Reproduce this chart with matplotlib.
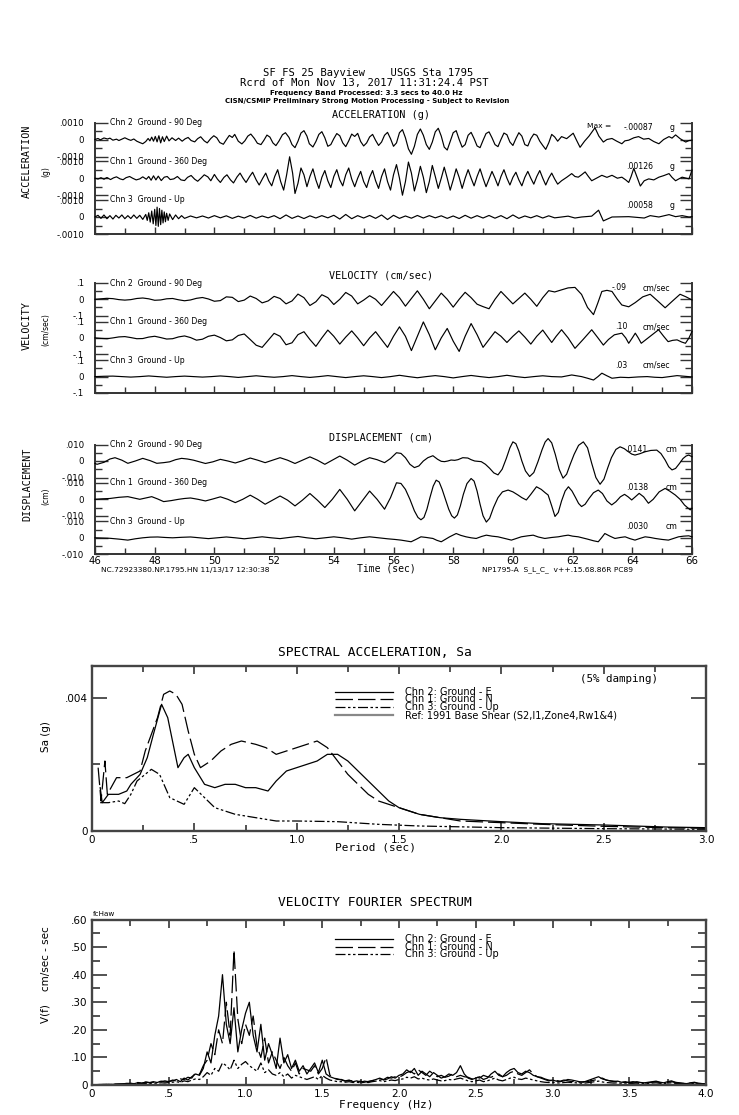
import numpy as np
import matplotlib
matplotlib.use("Agg")
import matplotlib.pyplot as plt
from matplotlib.ticker import MultipleLocator, FixedLocator, FuncFormatter

W, H, DPI = 739, 1115, 100
MONO = "DejaVu Sans Mono"
SANS = "DejaVu Sans"

# ====================== DATA ======================
TIME_LIM = (46, 66)
TIME_TICKS = [46, 48, 50, 52, 54, 56, 58, 60, 62, 64, 66]

# acceleration, units of 1e-5 g : (time s, value)
ACC_CH2 = [(46.0,0),(46.1,6),(46.18,-2),(46.3,9),(46.42,3),(46.5,8),(46.6,-4),(46.72,2),(46.8,-6),(46.92,4),
 (47.0,10),(47.12,0),(47.2,-5),(47.3,3),(47.4,-10),(47.5,-18),(47.6,-25),(47.7,-12),(47.78,6),(47.84,-8),
 (47.9,14),(47.96,-10),(48.02,18),(48.08,-14),(48.14,22),(48.2,-20),(48.26,16),(48.32,-12),(48.4,20),(48.48,-8),
 (48.58,10),(48.7,-6),(48.8,8),(48.92,-10),(49.02,4),(49.12,12),(49.22,-6),(49.34,-14),(49.44,5),(49.54,16),
 (49.66,-8),(49.76,-20),(49.88,6),(49.98,22),(50.08,10),(50.18,-18),(50.3,-28),(50.42,4),(50.5,24),(50.6,12),
 (50.68,30),(50.8,-10),(50.92,-26),(51.02,-8),(51.12,20),(51.22,32),(51.34,6),(51.44,-22),(51.56,-30),(51.66,-4),
 (51.76,26),(51.86,14),(51.96,-20),(52.06,-36),(52.16,-10),(52.28,28),(52.38,40),(52.5,12),(52.6,-30),(52.7,-48),
 (52.8,-10),(52.9,38),(53.0,52),(53.1,20),(53.18,-25),(53.3,-44),(53.4,-12),(53.5,30),(53.6,46),(53.7,10),
 (53.8,-40),(53.9,-30),(54.0,5),(54.1,35),(54.2,22),(54.3,-20),(54.4,-42),(54.5,-8),(54.6,32),(54.7,18),
 (54.8,36),(54.9,-12),(55.0,-38),(55.1,-20),(55.2,15),(55.3,30),(55.4,-5),(55.5,-35),(55.6,-15),(55.7,25),
 (55.8,42),(55.9,5),(56.0,-40),(56.1,-20),(56.2,40),(56.3,58),(56.4,10),(56.5,-55),(56.6,-87),(56.7,-40),
 (56.8,30),(56.9,62),(57.0,25),(57.1,-30),(57.2,-58),(57.3,-15),(57.4,45),(57.5,66),(57.6,20),(57.7,-45),
 (57.8,-62),(57.9,-10),(58.0,40),(58.1,52),(58.2,0),(58.3,-45),(58.4,-30),(58.5,25),(58.6,42),(58.7,5),
 (58.8,-38),(58.9,-48),(59.0,-5),(59.1,35),(59.2,45),(59.3,10),(59.4,-30),(59.5,-42),(59.6,0),(59.7,38),
 (59.8,28),(59.9,-15),(60.0,-35),(60.1,5),(60.2,40),(60.3,20),(60.4,-30),(60.5,-38),(60.6,5),(60.7,32),
 (60.8,25),(60.9,-10),(61.0,-35),(61.1,-58),(61.2,-20),(61.3,30),(61.4,15),(61.5,-10),(61.63,17),(61.8,5),
 (62.02,37),(62.12,0),(62.25,-46),(62.4,-10),(62.55,20),(62.75,69),(62.88,20),(63.03,-15),(63.15,0),(63.32,6),
 (63.48,-10),(63.65,-25),(63.75,-8),(63.88,-4),(64.05,10),(64.21,17),(64.38,2),(64.55,6),(64.72,-12),
 (64.89,-25),(65.05,0),(65.23,17),(65.33,8),(65.45,27),(65.6,5),(65.79,-15),(65.9,-6),(66.0,-4)]
ACC_CH1 = [(46.0,0),(46.1,-5),(46.2,3),(46.3,-6),(46.4,4),(46.52,-8),(46.62,2),(46.72,8),(46.84,-4),(46.94,-9),
 (47.04,3),(47.16,10),(47.26,0),(47.38,-10),(47.5,-4),(47.6,8),(47.72,-6),(47.8,10),(47.88,-12),(47.96,14),
 (48.04,-10),(48.12,12),(48.22,-14),(48.32,6),(48.42,10),(48.52,-8),(48.64,-4),(48.76,10),(48.88,-10),(49.0,-14),
 (49.1,5),(49.22,16),(49.34,-6),(49.44,-18),(49.56,2),(49.66,20),(49.78,8),(49.88,-15),(50.0,22),(50.1,-5),
 (50.2,-25),(50.32,5),(50.42,20),(50.54,-10),(50.64,-28),(50.76,8),(50.86,30),(50.96,0),(51.06,-25),(51.18,10),
 (51.28,35),(51.4,-10),(51.5,-40),(51.62,0),(51.72,30),(51.82,-15),(51.92,-45),(52.02,10),(52.12,50),(52.22,-20),
 (52.32,-70),(52.42,20),(52.52,126),(52.62,30),(52.7,-90),(52.8,-30),(52.9,60),(53.0,20),(53.1,-50),(53.2,10),
 (53.3,55),(53.4,-10),(53.5,-60),(53.6,5),(53.7,45),(53.8,-15),(53.9,-55),(54.0,10),(54.1,50),(54.2,-10),
 (54.3,-45),(54.4,20),(54.5,60),(54.6,-5),(54.7,-50),(54.8,0),(54.9,40),(55.0,-20),(55.1,-55),(55.2,5),
 (55.3,45),(55.4,-15),(55.5,-60),(55.6,10),(55.7,55),(55.8,-20),(55.9,-70),(56.0,20),(56.1,80),(56.2,0),
 (56.3,-100),(56.4,-20),(56.5,95),(56.6,30),(56.7,-75),(56.8,-10),(56.9,70),(57.0,5),(57.1,-85),(57.2,-20),
 (57.3,75),(57.4,10),(57.5,-60),(57.6,0),(57.7,65),(57.8,0),(57.9,-70),(58.0,-10),(58.1,55),(58.2,5),
 (58.3,-60),(58.4,0),(58.5,50),(58.6,0),(58.7,-45),(58.8,10),(58.9,55),(59.0,0),(59.1,-50),(59.2,-5),
 (59.3,40),(59.4,0),(59.5,-45),(59.6,10),(59.7,50),(59.8,0),(59.9,-40),(60.0,5),(60.1,35),(60.2,-10),
 (60.3,-45),(60.4,5),(60.5,40),(60.6,0),(60.7,-35),(60.8,10),(60.9,45),(61.0,0),(61.1,-40),(61.2,0),
 (61.3,30),(61.4,-5),(61.5,-35),(61.63,-15),(61.8,5),(61.97,27),(62.08,10),(62.19,6),(62.3,20),(62.42,37),
 (62.53,10),(62.64,-15),(62.8,0),(62.98,17),(63.15,5),(63.32,17),(63.5,0),(63.65,6),(63.78,-10),(63.88,-25),
 (63.96,10),(64.05,58),(64.15,10),(64.27,-46),(64.4,-15),(64.55,-4),(64.72,-10),(64.89,6),(65.05,15),
 (65.23,27),(65.33,5),(65.45,-15),(65.55,-5),(65.67,6),(65.8,0),(65.9,-4),(66.0,48)]
ACC_CH3 = [(46.0,0),(46.1,10),(46.2,-8),(46.3,12),(46.4,-10),(46.5,8),(46.6,-12),(46.7,10),(46.8,-6),(46.9,12),
 (47.0,-10),(47.1,8),(47.2,-9),(47.3,12),(47.4,-8),(47.5,10),(47.6,-14),(47.7,15),(47.75,-20),(47.8,25),
 (47.85,-30),(47.9,35),(47.95,-40),(48.0,45),(48.04,-50),(48.08,58),(48.12,-55),(48.16,50),(48.2,-45),(48.24,40),
 (48.28,-35),(48.32,30),(48.36,-28),(48.4,22),(48.45,-20),(48.5,18),(48.6,-15),(48.7,12),(48.8,-10),(48.9,8),
 (49.0,-8),(49.2,6),(49.4,-5),(49.6,6),(49.8,-6),(50.0,8),(50.2,-5),(50.4,7),(50.6,-8),(50.8,5),(51.0,-6),
 (51.2,9),(51.4,-7),(51.6,6),(51.8,-5),(52.0,8),(52.2,-10),(52.4,12),(52.6,-8),(52.8,6),(53.0,-9),(53.2,7),
 (53.4,-6),(53.6,8),(53.8,-5),(54.0,10),(54.2,-12),(54.4,15),(54.6,-10),(54.8,8),(55.0,-6),(55.2,9),(55.4,-8),
 (55.6,12),(55.8,-15),(56.0,10),(56.2,-8),(56.4,6),(56.6,-7),(56.8,9),(57.0,-6),(57.2,8),(57.4,-5),(57.6,7),
 (57.8,-8),(58.0,6),(58.2,-9),(58.4,10),(58.6,-7),(58.8,8),(59.0,-6),(59.2,9),(59.4,-7),(59.6,8),(59.8,-10),
 (60.0,12),(60.2,-8),(60.4,6),(60.6,-5),(60.8,8),(61.0,-6),(61.2,7),(61.4,-5),(61.63,0),(61.85,5),(62.08,-6),
 (62.3,0),(62.64,5),(62.87,40),(63.03,-23),(63.32,0),(63.88,2),(64.4,-6),(64.6,8),(64.89,0),(65.23,14),
 (65.45,2),(65.67,8),(65.9,0),(66.0,2)]

# velocity, units of 1e-3 cm/s
VEL_CH2 = [(46.0,0),(46.2,3),(46.4,6),(46.6,4),(46.8,-2),(47.0,-5),(47.2,-2),(47.4,5),(47.6,8),(47.8,3),(48.0,-6),
 (48.2,-4),(48.4,3),(48.6,5),(48.8,-3),(49.0,-9),(49.2,-4),(49.4,6),(49.6,11),(49.8,2),(50.0,-12),(50.2,-8),
 (50.4,15),(50.6,12),(50.8,-14),(51.0,-5),(51.2,20),(51.4,5),(51.6,-22),(51.8,-10),(52.0,18),(52.2,5),(52.4,-28),
 (52.6,-10),(52.8,32),(53.0,10),(53.2,-38),(53.4,-15),(53.6,28),(53.8,10),(54.0,-32),(54.2,0),(54.4,42),(54.6,20),
 (54.8,-28),(55.0,-5),(55.2,22),(55.4,0),(55.6,-38),(55.8,5),(56.0,48),(56.2,10),(56.4,-42),(56.6,5),(56.8,52),
 (57.0,0),(57.2,-58),(57.4,-10),(57.6,38),(57.8,0),(58.0,-48),(58.2,0),(58.4,43),(58.6,10),(58.8,-30),(59.0,-45),
 (59.2,-58),(59.4,0),(59.6,48),(59.8,10),(60.0,-28),(60.2,5),(60.4,38),(60.6,0),(60.8,-43),(61.0,10),(61.2,53),
 (61.4,45),(61.63,58),(61.85,70),(62.08,73),(62.3,30),(62.5,-50),(62.7,-94),(62.85,-20),(62.98,48),(63.15,55),
 (63.32,48),(63.5,0),(63.65,-35),(63.88,-46),(64.1,-20),(64.35,15),(64.6,31),(64.85,-10),(65.1,-52),(65.35,-10),
 (65.6,31),(65.8,15),(66.0,-4)]
VEL_CH1 = [(46.0,0),(46.2,-3),(46.4,-5),(46.6,0),(46.8,6),(47.0,8),(47.2,2),(47.4,-5),(47.6,-4),(47.8,5),(48.0,10),
 (48.2,2),(48.4,-7),(48.6,-5),(48.8,6),(49.0,12),(49.2,2),(49.4,-14),(49.6,-8),(49.8,10),(50.0,17),(50.2,2),
 (50.4,-18),(50.6,-12),(50.8,15),(51.0,24),(51.2,-10),(51.4,-45),(51.6,-58),(51.8,-15),(52.0,28),(52.2,10),
 (52.4,-42),(52.6,-30),(52.8,20),(53.0,38),(53.2,-10),(53.4,-52),(53.6,0),(53.8,48),(54.0,10),(54.2,-38),(54.4,5),
 (54.6,43),(54.8,0),(55.0,-48),(55.2,0),(55.4,38),(55.6,-10),(55.8,-58),(56.0,10),(56.2,68),(56.4,10),(56.6,-78),
 (56.8,10),(57.0,98),(57.2,20),(57.4,-73),(57.6,0),(57.8,58),(58.0,-20),(58.2,-83),(58.4,10),(58.6,88),(58.8,20),
 (59.0,-58),(59.2,-10),(59.4,38),(59.6,10),(59.8,-28),(60.0,10),(60.2,43),(60.4,5),(60.6,-38),(60.8,10),(61.0,48),
 (61.15,10),(61.3,-28),(61.45,10),(61.63,50),(61.85,0),(62.08,-64),(62.35,-10),(62.64,50),(62.85,0),(63.03,-44),
 (63.2,-10),(63.4,19),(63.65,29),(63.78,0),(63.88,-33),(64.0,0),(64.1,29),(64.2,0),(64.3,-33),(64.6,10),
 (64.88,50),(65.05,10),(65.2,-23),(65.35,-15),(65.5,-12),(65.65,-25),(65.78,-33),(65.9,0),(66.0,40)]
VEL_CH3 = [(46.0,0),(46.3,2),(46.6,3),(46.9,0),(47.2,-3),(47.5,0),(47.8,4),(48.1,0),(48.4,-4),(48.7,0),(49.0,3),
 (49.3,0),(49.6,-3),(49.9,0),(50.2,4),(50.5,0),(50.8,-5),(51.1,0),(51.4,5),(51.7,0),(52.0,-4),(52.3,0),(52.6,6),
 (52.9,0),(53.2,-5),(53.5,0),(53.8,6),(54.1,0),(54.4,-6),(54.7,0),(55.0,5),(55.3,0),(55.6,-6),(55.9,0),(56.2,8),
 (56.5,0),(56.8,-7),(57.1,0),(57.4,6),(57.7,0),(58.0,-8),(58.3,0),(58.6,7),(58.9,0),(59.2,-6),(59.5,0),(59.8,8),
 (60.1,0),(60.4,-6),(60.7,0),(61.0,5),(61.3,0),(61.63,-2),(61.97,10),(62.3,0),(62.5,-10),(62.7,-21),(62.85,0),
 (62.98,21),(63.15,5),(63.32,-10),(63.6,-4),(63.88,-6),(64.2,-2),(64.5,0),(64.75,-4),(65.0,-6),(65.25,0),
 (65.5,6),(65.75,2),(66.0,-2)]

# displacement, units of 1e-4 cm
DISP_CH2 = [(46.0,-15),(46.07,-20),(46.3,-8),(46.5,12),(46.67,20),(46.9,5),(47.1,-14),(47.35,0),(47.6,16),
 (47.85,2),(48.07,-14),(48.3,-10),(48.5,-5),(48.7,8),(48.9,16),(49.1,12),(49.3,5),(49.5,-5),(49.7,-15),
 (49.95,-5),(50.2,10),(50.45,0),(50.7,-12),(50.95,2),(51.2,18),(51.45,5),(51.7,-10),(51.95,5),(52.2,20),
 (52.45,5),(52.7,-15),(52.95,5),(53.2,25),(53.45,5),(53.7,-20),(53.95,5),(54.2,30),(54.45,5),(54.7,-25),
 (54.95,0),(55.2,20),(55.45,8),(55.7,-10),(55.9,15),(56.1,50),(56.25,46),(56.4,20),(56.55,-20),(56.7,-40),
 (56.85,-30),(57.0,0),(57.15,20),(57.32,32),(57.48,10),(57.6,-2),(57.71,-4),(57.82,0),(57.93,6),(58.05,4),
 (58.16,8),(58.32,20),(58.49,18),(58.6,8),(58.72,0),(58.83,-2),(58.94,-4),(59.08,-20),(59.22,-44),(59.36,-72),
 (59.5,-84),(59.64,-50),(59.78,16),(59.9,80),(60.0,116),(60.1,105),(60.2,60),(60.3,0),(60.42,-60),(60.56,-94),
 (60.7,-70),(60.84,-4),(60.98,70),(61.08,115),(61.18,136),(61.3,110),(61.42,40),(61.55,-50),(61.68,-104),
 (61.8,-80),(61.92,-20),(62.05,40),(62.2,95),(62.36,116),(62.5,80),(62.64,-14),(62.78,-100),(62.92,-141),
 (63.05,-110),(63.18,-40),(63.3,20),(63.45,70),(63.59,86),(63.73,75),(63.87,56),(63.98,42),(64.09,36),
 (64.25,44),(64.43,56),(64.62,64),(64.82,66),(64.96,45),(65.1,6),(65.22,-35),(65.33,-54),(65.45,-45),
 (65.58,-15),(65.7,15),(65.8,30),(65.89,36),(66.0,26)]
DISP_CH1 = [(46.0,0),(46.25,3),(46.5,5),(46.8,12),(47.1,16),(47.3,8),(47.5,0),(47.7,8),(47.9,16),(48.1,2),
 (48.3,-14),(48.55,-8),(48.8,0),(49.0,5),(49.2,8),(49.45,0),(49.7,-10),(49.95,2),(50.2,15),(50.45,0),
 (50.7,-20),(50.95,0),(51.2,25),(51.45,0),(51.7,-30),(51.95,-5),(52.2,20),(52.45,-5),(52.7,-40),(52.95,-5),
 (53.2,35),(53.45,-5),(53.7,-50),(53.95,0),(54.2,60),(54.45,0),(54.7,-70),(54.95,-10),(55.2,50),(55.45,0),
 (55.7,-60),(55.9,10),(56.1,100),(56.25,96),(56.4,60),(56.55,0),(56.7,-70),(56.82,-110),(56.92,-124),
 (57.02,-110),(57.12,-60),(57.22,10),(57.33,80),(57.43,116),(57.53,105),(57.63,60),(57.74,0),(57.85,-60),
 (57.95,-100),(58.04,-114),(58.14,-95),(58.24,-40),(58.34,30),(58.46,95),(58.6,126),(58.7,110),(58.8,50),
 (58.9,-30),(59.0,-100),(59.11,-138),(59.22,-115),(59.35,-50),(59.5,10),(59.65,45),(59.84,56),(60.0,45),
 (60.17,26),(60.3,10),(60.45,-4),(60.6,30),(60.79,76),(60.95,60),(61.08,40),(61.18,26),(61.3,-40),(61.41,-104),
 (61.52,-80),(61.63,-10),(61.75,50),(61.86,76),(61.98,50),(62.1,10),(62.2,-25),(62.3,-44),(62.42,-30),
 (62.55,5),(62.7,40),(62.86,56),(63.0,35),(63.15,-10),(63.31,-34),(63.45,-15),(63.6,15),(63.74,30),
 (63.86,15),(63.98,-4),(64.1,15),(64.23,36),(64.38,15),(64.54,-24),(64.7,0),(64.9,45),(65.1,66),(65.25,50),
 (65.44,26),(65.6,0),(65.75,-35),(65.94,-64),(66.0,-54)]
DISP_CH3 = [(46.0,0),(46.5,-3),(46.8,-8),(47.1,-14),(47.35,-6),(47.6,0),(47.85,4),(48.1,5),(48.35,2),(48.6,0),
 (48.9,3),(49.2,5),(49.5,0),(49.8,-5),(50.1,0),(50.4,5),(50.7,0),(51.0,-6),(51.3,0),(51.6,6),(51.9,0),(52.2,-5),
 (52.5,2),(52.8,8),(53.1,0),(53.4,-6),(53.7,0),(54.0,6),(54.3,0),(54.6,-8),(54.9,0),(55.2,6),(55.5,0),(55.8,-6),
 (56.05,-10),(56.25,-14),(56.59,-24),(56.75,-10),(56.92,6),(57.1,2),(57.32,-4),(57.45,-15),(57.6,-24),(57.75,-8),
 (57.88,6),(58.1,26),(58.25,15),(58.43,6),(58.6,0),(58.77,-4),(58.95,8),(59.11,16),(59.3,10),(59.5,6),
 (59.75,-5),(59.95,-14),(60.1,-5),(60.28,6),(60.5,12),(60.68,16),(60.85,5),(61.07,-4),(61.3,2),(61.52,6),
 (61.7,12),(61.85,16),(62.0,10),(62.19,6),(62.5,-8),(62.7,-18),(62.86,-24),(62.97,0),(63.08,26),(63.25,10),
 (63.42,-4),(63.6,2),(63.76,6),(63.92,-5),(64.09,-14),(64.25,-4),(64.43,6),(64.6,2),(64.77,-4),(65.0,-10),
 (65.21,-14),(65.38,-4),(65.55,6),(65.72,10),(65.89,12),(66.0,6)]

ACC_PEAKS = ["-.00087", ".00126", ".00058"]
VEL_PEAKS = ["-.09", ".10", ".03"]
DISP_PEAKS = [".0141", ".0138", ".0030"]
CHANNEL_LABELS = ["Chn 2  Ground - 90 Deg", "Chn 1  Ground - 360 Deg", "Chn 3  Ground - Up"]

# spectral acceleration (period s, Sa g)
SA_CH2 = [(0.04,0.0013),(0.05,0.00085),(0.08,0.0011),(0.1,0.0011),(0.13,0.0011),(0.17,0.0012),(0.19,0.0014),
 (0.235,0.0017),(0.27,0.0022),(0.3,0.0029),(0.34,0.0038),(0.37,0.0034),(0.38,0.0031),(0.41,0.0022),(0.42,0.0019),
 (0.45,0.0022),(0.47,0.0023),(0.5,0.0019),(0.55,0.0014),(0.6,0.0013),(0.65,0.0014),(0.7,0.0014),(0.75,0.0013),
 (0.8,0.0013),(0.86,0.0012),(0.9,0.0015),(0.95,0.0018),(1.0,0.0019),(1.05,0.002),(1.1,0.0021),(1.15,0.0023),
 (1.2,0.0023),(1.25,0.0021),(1.3,0.0018),(1.35,0.0015),(1.4,0.0012),(1.45,0.0009),(1.5,0.0007),(1.6,0.0005),
 (1.7,0.0004),(1.8,0.00035),(2.0,0.00028),(2.2,0.00022),(2.5,0.00018),(2.8,0.00012),(3.0,0.0001)]
SA_CH1 = [(0.03,0.0019),(0.044,0.0009),(0.063,0.0021),(0.075,0.0011),(0.12,0.0016),(0.17,0.0016),(0.235,0.0018),
 (0.26,0.0024),(0.29,0.0029),(0.32,0.0034),(0.35,0.0041),(0.38,0.0042),(0.41,0.0041),(0.44,0.0038),(0.47,0.003),
 (0.5,0.0023),(0.53,0.0019),(0.58,0.0021),(0.63,0.0024),(0.68,0.0026),(0.73,0.0027),(0.8,0.0026),(0.85,0.0025),
 (0.9,0.0023),(0.95,0.0024),(1.0,0.0025),(1.05,0.0026),(1.1,0.0027),(1.15,0.0025),(1.2,0.0021),(1.25,0.0017),
 (1.3,0.0014),(1.35,0.0011),(1.4,0.0009),(1.5,0.0007),(1.6,0.0005),(1.7,0.0004),(1.8,0.0003),(2.0,0.00025),
 (2.2,0.0002),(2.5,0.00014),(2.8,0.0001),(3.0,0.00008)]
SA_CH3 = [(0.04,0.00085),(0.08,0.00085),(0.13,0.0009),(0.16,0.00082),(0.19,0.0011),(0.22,0.0015),(0.25,0.00165),
 (0.29,0.00185),(0.33,0.0017),(0.38,0.001),(0.45,0.0008),(0.5,0.0013),(0.55,0.001),(0.6,0.0007),(0.7,0.0005),
 (0.8,0.0004),(0.9,0.0003),(1.0,0.0003),(1.2,0.00028),(1.4,0.0002),(1.6,0.00015),(2.0,0.0001),(2.5,0.00007),
 (3.0,0.00005)]

# velocity Fourier spectrum, frequency step 0.025 Hz from 0 Hz, units 1e-3
FFT_STEP = 0.025
FFT_CH2 = [1,1,1,2,2,2,3,3,4, 5,6,5,8,7,10,8,12,9,14,11,13, 15,20,12,25,18,30,40,35, 60,120,80,180,250,400,
 220,150,280,120,200,260, 300,180,120,220,90,150,110,60, 170,80,110,60,90,50,70,40, 60,80,45,90,40,30,25,20,
 20,15,18,12,15,10,14,12,16,20,25,18,22,30,25,35, 40,55,45,60,35,50,40,30,45,35,25,30,40,35,45,70,
 40,25,20,25,30,20,25,40,50,35,30,45,55,60,45,40, 50,45,35,30,25,20,15,18,14,12,15,20,18,15,12,10,
 15,20,25,30,22,18,15,12,14,10,12,8,10,12,9,8, 10,12,14,10,8,12,15,10,8,6,5,8,10,6,5,4]
FFT_CH1 = [1,1,2,2,2,3,3,4,4, 6,5,7,9,6,11,9,10,13,12,15,12, 18,14,22,20,28,25,45,38, 70,90,150,110,200,150,
 300,180,490,240,150,220, 180,250,140,100,170,80,120,90, 60,100,70,50,80,40,60,55, 50,70,40,60,100,35,25,22,
 18,14,16,15,12,14,10,13,15,18,22,20,28,25,30,28, 35,45,50,40,55,45,35,50,40,30,35,28,32,40,30,35,
 30,28,22,30,25,35,30,28,35,40,30,35,45,50,40,35, 45,55,40,30,28,22,18,15,16,14,18,15,12,14,10,12,
 12,15,18,22,25,18,15,14,12,10,9,10,12,8,9,7, 8,10,12,9,7,10,12,9,7,6,5,7,8,6,5,4]
FFT_CH3 = [1,1,1,1,2,2,2,2,3, 3,4,3,5,4,6,5,7,6,8,7,9, 10,12,9,15,12,18,22,20, 30,45,35,60,50,80,
 70,55,90,60,75,85, 70,60,50,80,45,55,40,35, 45,30,40,25,35,30,25,20, 25,30,20,35,25,18,15,12,
 12,10,12,9,10,8,10,9,12,14,16,12,15,18,16,20, 22,28,25,30,22,25,20,18,22,18,15,16,20,18,22,25,
 20,15,12,15,18,12,15,20,25,18,15,20,25,28,22,20, 25,22,18,15,12,10,9,10,8,7,9,10,9,8,7,6,
 8,10,12,14,11,9,8,7,8,6,7,5,6,7,5,5, 6,7,8,6,5,7,8,6,5,4,3,5,6,4,3,3]

# ====================== FIGURE ======================
fig = plt.figure(figsize=(W / DPI, H / DPI), dpi=DPI)
FRAME_COLOR = "#333333"


def ax_px(left, top, right, bottom):
    return fig.add_axes([left / W, 1 - bottom / H, (right - left) / W, (bottom - top) / H])


def ftext(x, y, s, **kw):
    kw.setdefault("va", "center")
    fig.text(x / W, 1 - y / H, s, **kw)


def split(pairs):
    a = np.array(pairs, dtype=float)
    return a[:, 0], a[:, 1]


# ---- header ----
ftext(368, 73, "SF FS 25 Bayview    USGS Sta 1795", ha="center", family=MONO, fontsize=7.6)
ftext(364, 83, "Rcrd of Mon Nov 13, 2017 11:31:24.4 PST", ha="center", family=MONO, fontsize=7.6)
ftext(366, 93, "Frequency Band Processed: 3.3 secs to 40.0 Hz", ha="center", family=SANS,
      fontsize=5.2, fontweight="bold")
ftext(367, 101, "CISN/CSMIP Preliminary Strong Motion Processing - Subject to Revision", ha="center",
      family=SANS, fontsize=5.0, fontweight="bold")

TS_LEFT, TS_RIGHT = 95, 692

groups = [
    dict(title="ACCELERATION (g)", title_y=115, ylabel="ACCELERATION", ylabel_y=161, unit_lab="(g)",
         unit_y=172, zeros=[139.5, 178.2, 217.0], half=17.0, scale=1e-5, fs=0.0010,
         ticklabs=(".0010", "0", "-.0010"), traces=[ACC_CH2, ACC_CH1, ACC_CH3], peaks=ACC_PEAKS,
         unit="g", val_x=653, unit_x=670, xlabels=False),
    dict(title="VELOCITY (cm/sec)", title_y=275, ylabel="VELOCITY", ylabel_y=325, unit_lab="(cm/sec)",
         unit_y=330, zeros=[299.3, 337.9, 376.6], half=16.3, scale=1e-3, fs=0.1,
         ticklabs=(".1", "0", "-.1"), traces=[VEL_CH2, VEL_CH1, VEL_CH3], peaks=VEL_PEAKS,
         unit="cm/sec", val_x=627, unit_x=643, xlabels=False),
    dict(title="DISPLACEMENT (cm)", title_y=437, ylabel="DISPLACEMENT", ylabel_y=484, unit_lab="(cm)",
         unit_y=496, zeros=[461.0, 499.3, 537.8], half=16.5, scale=1e-4, fs=0.010,
         ticklabs=(".010", "0", "-.010"), traces=[DISP_CH2, DISP_CH1, DISP_CH3], peaks=DISP_PEAKS,
         unit="cm", val_x=648, unit_x=666, xlabels=True),
]

for g in groups:
    top = g["zeros"][0] - g["half"]
    bot = g["zeros"][-1] + g["half"]
    frame = ax_px(TS_LEFT, top, TS_RIGHT, bot)
    frame.set_xlim(*TIME_LIM)
    frame.set_ylim(0, 1)
    frame.patch.set_alpha(0)
    frame.spines["top"].set_visible(False)
    for s in ("left", "right", "bottom"):
        frame.spines[s].set_color(FRAME_COLOR)
        frame.spines[s].set_linewidth(1.4)
    frame.set_yticks([])
    frame.xaxis.set_major_locator(FixedLocator(TIME_TICKS))
    frame.xaxis.set_minor_locator(MultipleLocator(1))
    frame.tick_params(axis="x", which="both", direction="in", color=FRAME_COLOR, width=1.0)
    frame.tick_params(axis="x", which="major", length=5, pad=1, labelsize=7.3)
    frame.tick_params(axis="x", which="minor", length=4)
    if g["xlabels"]:
        frame.set_xticklabels([str(t) for t in TIME_TICKS], family=SANS)
    else:
        frame.set_xticklabels([])

    ftext(381, g["title_y"], g["title"], ha="center", family=MONO, fontsize=7.3)
    ftext(27, g["ylabel_y"], g["ylabel"], ha="center", rotation=90, family=MONO, fontsize=7.3)
    ftext(46, g["unit_y"], g["unit_lab"], ha="center", rotation=90, family=SANS, fontsize=5.5)

    for k, (z, tr) in enumerate(zip(g["zeros"], g["traces"])):
        st, sb = z - g["half"], z + g["half"]
        ax = ax_px(TS_LEFT, st, TS_RIGHT, sb)
        ax.patch.set_alpha(0)
        for s in ax.spines.values():
            s.set_visible(False)
        ax.set_xlim(*TIME_LIM)
        fs = g["fs"]
        ax.set_ylim(-fs, fs)
        ax.set_xticks([])
        ax.yaxis.set_major_locator(FixedLocator([-fs, 0, fs]))
        ax.yaxis.set_minor_locator(FixedLocator([-fs / 2, fs / 2]))
        ax.set_yticklabels([g["ticklabs"][2], g["ticklabs"][1], g["ticklabs"][0]], family=SANS)
        ax.tick_params(axis="y", which="both", direction="in", left=True, right=True,
                       color=FRAME_COLOR, width=1.0, labelsize=6.2, pad=8)
        ax.tick_params(axis="y", which="major", length=9)
        ax.tick_params(axis="y", which="minor", length=5)
        t, v = split(tr)
        ax.plot(t, v * g["scale"], color="black", lw=0.85, clip_on=False)
        # labels
        ftext(110, st, CHANNEL_LABELS[k], ha="left", family=SANS, fontsize=5.6)
        if k == 0 and g["unit"] == "g":
            ftext(587, st + 4, "Max =", ha="left", family=SANS, fontsize=5.4)
        ftext(g["val_x"], st + 5, g["peaks"][k], ha="right", family=SANS, fontsize=5.6)
        ftext(g["unit_x"], st + 5, g["unit"], ha="left", family=SANS, fontsize=5.6)

# footer of time series
ftext(101, 570, "NC.72923380.NP.1795.HN 11/13/17 12:30:38", ha="left", family=SANS, fontsize=5.4)
ftext(386, 568.5, "Time (sec)", ha="center", family=MONO, fontsize=7)
ftext(482, 570, "NP1795-A  S_L_C_  v++.15.68.86R PC89", ha="left", family=SANS, fontsize=5.4)

# ---- common styles for spectra ----
STYLE_CH2 = dict(color="black", lw=0.9, ls="-")
STYLE_CH1 = dict(color="black", lw=0.9, ls=(0, (14, 4)))
STYLE_CH3 = dict(color="black", lw=0.9, ls=(0, (8, 2, 2, 2, 2, 2)))
STYLE_REF = dict(color="#888888", lw=1.6, ls="-")
SPEC_FRAME = "#444444"


def style_spec_axes(ax):
    for s in ax.spines.values():
        s.set_color(SPEC_FRAME)
        s.set_linewidth(1.7)
    ax.tick_params(which="both", direction="in", top=True, right=True, color=SPEC_FRAME, width=1.3,
                   labelsize=7.5)
    ax.tick_params(axis="x", which="major", length=6, pad=3)
    ax.tick_params(axis="x", which="minor", length=4)
    ax.tick_params(axis="y", which="major", length=11, pad=3)
    ax.tick_params(axis="y", which="minor", length=6)


def fmt_freq(x, pos):
    if abs(x) < 1e-9:
        return "0"
    if x < 1:
        return ("%.1f" % x)[1:]
    return "%.1f" % x


def legend_rows(rows):
    for (y, label, style) in rows:
        line = plt.Line2D([335 / W, 393 / W], [1 - y / H, 1 - y / H], transform=fig.transFigure, **style)
        fig.add_artist(line)
        ftext(405, y, label, ha="left", family=SANS, fontsize=7)


# ---- spectral acceleration ----
ftext(375, 652, "SPECTRAL ACCELERATION, Sa", ha="center", family=MONO, fontsize=9.3)
sa = ax_px(92, 666, 706, 831)
sa.set_xlim(0, 3.0)
sa.set_ylim(0, 0.00495)
style_spec_axes(sa)
sa.xaxis.set_major_locator(MultipleLocator(0.5))
sa.xaxis.set_minor_locator(MultipleLocator(0.25))
sa.xaxis.set_major_formatter(FuncFormatter(fmt_freq))
sa.yaxis.set_major_locator(FixedLocator([0, 0.004]))
sa.yaxis.set_minor_locator(FixedLocator([0.002]))
sa.set_yticklabels(["0", ".004"])
for lab in sa.get_xticklabels() + sa.get_yticklabels():
    lab.set_family(SANS)
for data, st in ((SA_CH2, STYLE_CH2), (SA_CH1, STYLE_CH1), (SA_CH3, STYLE_CH3)):
    p, a = split(data)
    sa.plot(p, a, **st)
legend_rows([(692, "Chn 2: Ground - E", STYLE_CH2), (699, "Chn 1: Ground - N", STYLE_CH1),
             (707, "Chn 3: Ground - Up", STYLE_CH3),
             (715, "Ref: 1991 Base Shear (S2,I1,Zone4,Rw1&4)", STYLE_REF)])
ftext(619, 679, "(5% damping)", ha="center", family=MONO, fontsize=7.8)
ftext(46, 737, "Sa (g)", ha="center", rotation=90, family=SANS, fontsize=7.5)
ftext(375, 848, "Period (sec)", ha="center", family=MONO, fontsize=8)

# ---- velocity Fourier spectrum ----
ftext(375, 903, "VELOCITY FOURIER SPECTRUM", ha="center", family=MONO, fontsize=9.3)
ff = ax_px(92, 919.5, 706, 1085)
ff.set_xlim(0, 4.0)
ff.set_ylim(0, 0.60)
style_spec_axes(ff)
ff.xaxis.set_major_locator(MultipleLocator(0.5))
ff.xaxis.set_minor_locator(MultipleLocator(0.25))
ff.xaxis.set_major_formatter(FuncFormatter(fmt_freq))
ff.yaxis.set_major_locator(MultipleLocator(0.10))
ff.yaxis.set_minor_locator(MultipleLocator(0.05))
ff.yaxis.set_major_formatter(FuncFormatter(lambda y, p: "0" if y < 1e-9 else ("%.2f" % y)[1:]))
for lab in ff.get_xticklabels() + ff.get_yticklabels():
    lab.set_family(SANS)
for data, st in ((FFT_CH2, STYLE_CH2), (FFT_CH1, STYLE_CH1), (FFT_CH3, STYLE_CH3)):
    vals = np.array(data, dtype=float) * 1e-3
    freq = np.arange(len(vals)) * FFT_STEP
    ff.plot(freq, vals, **st)
legend_rows([(939, "Chn 2: Ground - E", STYLE_CH2), (946.5, "Chn 1: Ground - N", STYLE_CH1),
             (954, "Chn 3: Ground - Up", STYLE_CH3)])
ftext(93, 914, "fcHaw", ha="left", family=SANS, fontsize=5.2)
ftext(45, 975, "V(f)    cm/sec - sec", ha="center", rotation=90, family=SANS, fontsize=7.5)
ftext(386, 1105, "Frequency (Hz)", ha="center", family=MONO, fontsize=8)

fig.savefig("out.png", dpi=DPI)
